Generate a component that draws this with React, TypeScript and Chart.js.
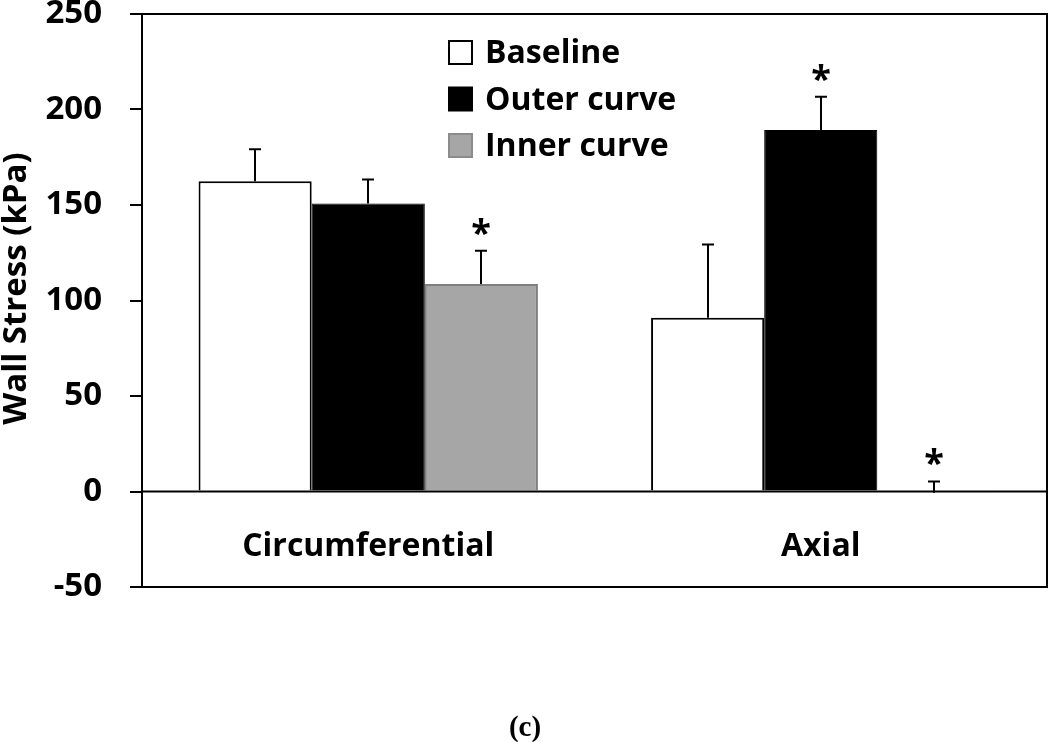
import React, { useEffect, useRef } from 'react';
import { Chart, registerables } from 'chart.js';

Chart.register(...registerables);

const categories = ['Circumferential', 'Axial'];
const seriesLabels = ['Baseline', 'Outer curve', 'Inner curve'];
const baselineValues = [162.5, 91];
const outerValues = [150.8, 189.3];
const innerValues = [108.6, -0.7];
const baselineErrors = [16.7, 38.3];
const outerErrors = [12.6, 17.4];
const innerErrors = [17.4, 6];
const baselineSignificant = [false, false];
const outerSignificant = [false, true];
const innerSignificant = [true, true];
const yTickValues = [-50, 0, 50, 100, 150, 200, 250];
const yAxisTitle = 'Wall Stress (kPa)';
const panelLabel = '(c)';

const errorsBySeries = [baselineErrors, outerErrors, innerErrors];
const significanceBySeries = [baselineSignificant, outerSignificant, innerSignificant];

const FONT = '"Open Sans", sans-serif';

const decorPlugin = {
  id: 'decor',
  afterDatasetsDraw(chart: any) {
    const ctx = chart.ctx;
    const area = chart.chartArea;
    const xs = chart.scales.x;
    const ys = chart.scales.y;
    const zero = ys.getPixelForValue(0);
    ctx.save();
    // zero line
    ctx.strokeStyle = '#000';
    ctx.lineWidth = 2;
    ctx.beginPath();
    ctx.moveTo(area.left, zero);
    ctx.lineTo(area.right, zero);
    ctx.stroke();
    // error bars and stars
    chart.data.datasets.forEach((ds: any, di: number) => {
      const meta = chart.getDatasetMeta(di);
      meta.data.forEach((el: any, i: number) => {
        const v = ds.data[i];
        const e = errorsBySeries[di][i];
        const yTop = ys.getPixelForValue(v + e);
        const yVal = ys.getPixelForValue(v);
        const x = Math.round(el.x);
        ctx.strokeStyle = '#000';
        ctx.lineWidth = 2;
        ctx.beginPath();
        ctx.moveTo(x, yVal);
        ctx.lineTo(x, yTop);
        ctx.moveTo(x - 6, yTop);
        ctx.lineTo(x + 6, yTop);
        ctx.stroke();
        if (significanceBySeries[di][i]) {
          ctx.fillStyle = '#000';
          ctx.font = `bold 36px ${FONT}`;
          ctx.textAlign = 'center';
          ctx.textBaseline = 'alphabetic';
          ctx.fillText('*', x, yTop - 6);
        }
      });
    });
    // category labels
    ctx.fillStyle = '#000';
    ctx.font = `bold 32px ${FONT}`;
    ctx.textAlign = 'center';
    ctx.textBaseline = 'alphabetic';
    categories.forEach((c, i) => {
      ctx.fillText(c, xs.getPixelForValue(i), zero + 64);
    });
    // legend
    const lx = area.left + 307;
    const ly = area.top + 49;
    chart.data.datasets.forEach((ds: any, di: number) => {
      const base = ly + di * 46.5;
      ctx.fillStyle = ds.backgroundColor;
      ctx.fillRect(lx, base - 22, 23, 23);
      ctx.strokeStyle = ds.legendBorder;
      ctx.lineWidth = 2;
      ctx.strokeRect(lx, base - 22, 23, 23);
      ctx.fillStyle = '#000';
      ctx.textAlign = 'left';
      ctx.font = `bold 32px ${FONT}`;
      ctx.fillText(ds.label, lx + 36, base);
    });
    ctx.restore();
  },
  afterDraw(chart: any) {
    const ctx = chart.ctx;
    const area = chart.chartArea;
    ctx.save();
    ctx.strokeStyle = '#000';
    ctx.lineWidth = 2;
    ctx.strokeRect(area.left, area.top, area.right - area.left, area.bottom - area.top);
    // y axis title
    ctx.save();
    ctx.translate(17, (area.top + area.bottom) / 2 - 12);
    ctx.rotate(-Math.PI / 2);
    ctx.fillStyle = '#000';
    ctx.font = `bold 33px ${FONT}`;
    ctx.textAlign = 'center';
    ctx.textBaseline = 'middle';
    ctx.fillText(yAxisTitle, 0, 0);
    ctx.restore();
    // panel label
    ctx.fillStyle = '#000';
    ctx.font = 'bold 29px "Liberation Serif", serif';
    ctx.textAlign = 'center';
    ctx.textBaseline = 'alphabetic';
    ctx.fillText(panelLabel, chart.width / 2, 736);
    ctx.restore();
  },
};

export default function App() {
  const ref = useRef<HTMLCanvasElement | null>(null);
  useEffect(() => {
    if (!ref.current) return;
    const chart = new Chart(ref.current, {
      type: 'bar',
      data: {
        labels: categories,
        datasets: [
          {
            label: seriesLabels[0],
            data: baselineValues,
            backgroundColor: '#ffffff',
            borderColor: '#000000',
            borderWidth: 2,
            legendBorder: '#000000',
          } as any,
          {
            label: seriesLabels[1],
            data: outerValues,
            backgroundColor: '#000000',
            borderColor: '#000000',
            borderWidth: 1,
            legendBorder: '#000000',
          } as any,
          {
            label: seriesLabels[2],
            data: innerValues,
            backgroundColor: '#a6a6a6',
            borderColor: '#808080',
            borderWidth: 2,
            legendBorder: '#8c8c8c',
          } as any,
        ],
      },
      options: {
        responsive: false,
        animation: false,
        devicePixelRatio: 1,
        layout: { padding: { left: 0, top: 14, right: 3, bottom: 155 } },
        plugins: { legend: { display: false }, tooltip: { enabled: false }, title: { display: false } },
        datasets: { bar: { categoryPercentage: 0.75, barPercentage: 1 } },
        scales: {
          x: { display: false, offset: true, grid: { display: false } },
          y: {
            min: -50,
            max: 250,
            afterBuildTicks(scale: any) {
              scale.ticks = yTickValues.map((v) => ({ value: v }));
            },
            afterFit(scale: any) {
              scale.width = 142;
              scale.paddingTop = 0;
              scale.paddingBottom = 0;
            },
            ticks: {
              color: '#000',
              padding: 28,
              font: { family: FONT, weight: 'bold', size: 33 },
            },
            grid: { drawOnChartArea: false, drawTicks: true, tickLength: 12, color: '#000', lineWidth: 2 },
            border: { display: true, color: '#000', width: 2 },
            title: { display: false },
          },
        },
      },
      plugins: [decorPlugin],
    });
    return () => chart.destroy();
  }, []);
  return (
    <div style={{ position: 'absolute', left: 0, top: 0, width: 1050, height: 742, background: '#fff' }}>
      <canvas ref={ref} width={1050} height={742} />
    </div>
  );
}
